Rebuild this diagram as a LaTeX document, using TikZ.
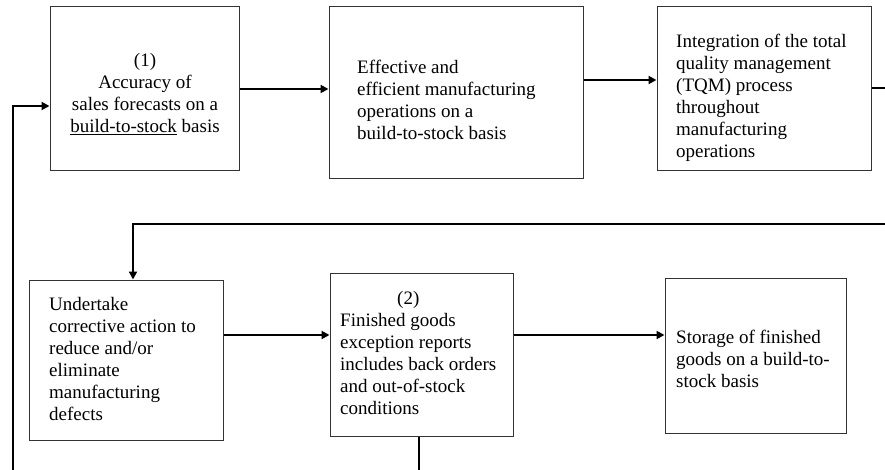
\documentclass[tikz,border=0pt]{standalone}
\usepackage{fontspec}
\setmainfont{Liberation Serif}
\usetikzlibrary{arrows.meta,calc}
\begin{document}
\begin{tikzpicture}[x=1pt,y=-1pt,
  box/.style={draw=black!80,line width=1pt,inner sep=0pt,fill=white},
  txt/.style={inner sep=0pt,font=\fontsize{19}{22}\selectfont},
  flow/.style={line width=2.7pt,-{Triangle[length=8pt,width=8pt]}},
  thinflow/.style={line width=2.1pt,-{Triangle[length=8pt,width=8pt]}},
  plain/.style={line width=2.7pt}]
\useasboundingbox (0,0) rectangle (885,470);

% boxes
\node[box,minimum width=189pt,minimum height=164pt] (b1) at (144.5,89) {};
\node[box,minimum width=254pt,minimum height=172pt] (b2) at (456,93) {};
\node[box,minimum width=214pt,minimum height=164pt] (b3) at (764,89) {};
\node[box,minimum width=194pt,minimum height=160pt] (b4) at (126,360) {};
\node[box,minimum width=183pt,minimum height=163pt] (b5) at (421.5,354.5) {};
\node[box,minimum width=181pt,minimum height=155pt] (b6) at (755.5,355.5) {};

% box texts
\node[txt,align=center] (t1) at (145,94)
  {(1)\\Accuracy of\\sales forecasts on a\\\underline{build-to-stock} basis};
\node[txt,align=left,anchor=west] (t2) at (357,100)
  {Effective and\\efficient manufacturing\\operations on a\\build-to-stock basis};
\node[txt,align=left,anchor=west] (t3) at (676,98)
  {Integration of the total\\quality management\\(TQM) process\\throughout\\manufacturing\\operations};
\node[txt,align=left,anchor=west] (t4) at (49,359)
  {Undertake\\corrective action to\\reduce and/or\\eliminate\\manufacturing\\defects};
\node[txt,align=left,anchor=west] (t5) at (340,353)
  {\hspace*{57pt}(2)\\Finished goods\\exception reports\\includes back orders\\and out-of-stock\\conditions};
\node[txt,align=left,anchor=west] (t6) at (676,359)
  {Storage of finished\\goods on a build-to-\\stock basis};

% free ends of the loop lines
\coordinate (outR) at (885,88);
\coordinate (inR) at (885,224);
\coordinate (loopB) at (13,470);
\coordinate (downB) at (419,470);

% connectors
\draw[flow] (b1.east) -- (b1.east -| b2.west);
\draw[flow] (b2.east |- 0,80) -- (b3.west |- 0,80);
\draw[plain] (b3.east |- outR) -- (outR);
\draw[flow] (inR) -| ($(b4.north)+(7,0)$);
\draw[thinflow] (b4.east |- 0,335) -- (b5.west |- 0,335);
\draw[thinflow] (b5.east |- 0,335) -- (b6.west |- 0,335);
\draw[plain] (b5.south -| downB) -- (downB);
\draw[flow] (loopB) |- (b1.west |- 0,106);
\end{tikzpicture}
\end{document}
